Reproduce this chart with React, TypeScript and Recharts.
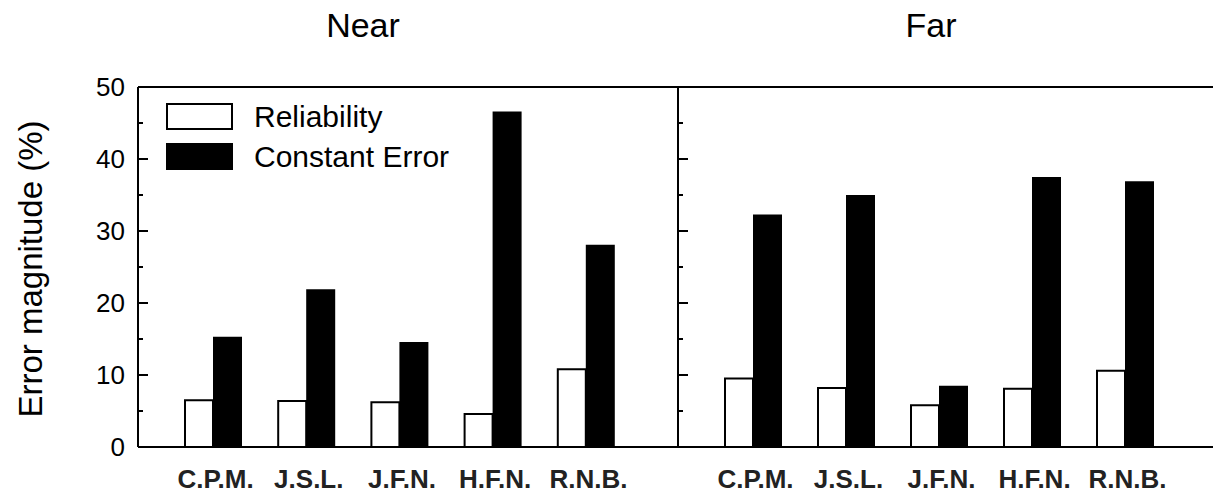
import React from 'react'
import { BarChart, Bar, XAxis, YAxis, ReferenceLine, Legend } from 'recharts'

// values (percent)
const subjects = ['C.P.M.', 'J.S.L.', 'J.F.N.', 'H.F.N.', 'R.N.B.']
const nearReliability = [6.5, 6.4, 6.2, 4.6, 10.8]
const nearConstant = [15.3, 21.9, 14.6, 46.6, 28.1]
const farReliability = [9.5, 8.2, 5.8, 8.1, 10.6]
const farConstant = [32.3, 35.0, 8.5, 37.5, 36.9]
const yTicks = [0, 5, 10, 15, 20, 25, 30, 35, 40, 45, 50]
const seriesNames = ['Reliability', 'Constant Error']

const FONT = '"Liberation Sans", Arial, Helvetica, sans-serif'
const TICK_MARGIN = 13

const nearData = subjects.map((s, i) => ({
  subject: s,
  reliability: nearReliability[i],
  constant: nearConstant[i],
}))
const farData = subjects.map((s, i) => ({
  subject: s,
  reliability: farReliability[i],
  constant: farConstant[i],
}))

function YTick(props: any) {
  const { x, y, payload, showLabel } = props
  const v = payload.value
  const major = v % 10 === 0
  const axisX = x + TICK_MARGIN
  return (
    <g>
      <line x1={axisX} x2={axisX + (major ? 10 : 5)} y1={y} y2={y} stroke="#000" strokeWidth={2} />
      {showLabel && major && (
        <text x={x} y={y} textAnchor="end" dominantBaseline="central" fontFamily={FONT} fontSize={26} fill="#000">
          {v}
        </text>
      )}
    </g>
  )
}

function XTick(props: any) {
  const { x, y, payload } = props
  return (
    <text x={x + 2} y={y + 41} textAnchor="middle" fontFamily={FONT} fontSize={26} fontWeight="bold" fill="#222">
      {payload.value}
    </text>
  )
}

function LegendContent(props: any) {
  const items = [...(props.payload || [])].sort(
    (a: any, b: any) => seriesNames.indexOf(a.value) - seriesNames.indexOf(b.value)
  )
  return (
    <div style={{ fontFamily: FONT, fontSize: 30, color: '#000' }}>
      {items.map((p: any) => (
        <div key={p.value} style={{ display: 'flex', alignItems: 'center', height: 27, marginBottom: 13 }}>
          <div
            style={{
              width: 67,
              height: 27,
              boxSizing: 'border-box',
              border: '2px solid #000',
              background: p.payload?.fill ?? p.color,
            }}
          />
          <span style={{ marginLeft: 21, whiteSpace: 'nowrap' }}>{p.value}</span>
        </div>
      ))}
    </div>
  )
}

function Panel({ data, width, axisWidth, showLabels, legend }: any) {
  return (
    <BarChart
      width={width}
      height={497}
      data={data}
      margin={{ top: 87, right: 2, bottom: 0, left: 0 }}
      barGap={0}
    >
      <XAxis
        dataKey="subject"
        interval={0}
        height={50}
        tickSize={0}
        tickMargin={0}
        tickLine={false}
        axisLine={{ stroke: '#000', strokeWidth: 2 }}
        padding={{ left: 29, right: 45 }}
        tick={<XTick />}
      />
      <YAxis
        type="number"
        domain={[0, 50]}
        ticks={yTicks}
        interval={0}
        width={axisWidth}
        tickSize={0}
        tickMargin={TICK_MARGIN}
        tickLine={false}
        axisLine={{ stroke: '#000', strokeWidth: 2 }}
        tick={<YTick showLabel={showLabels} />}
      />
      <ReferenceLine y={50} stroke="#000" strokeWidth={2} />
      {legend && (
        <Legend
          layout="vertical"
          align="center"
          verticalAlign="middle"
          wrapperStyle={{ top: 103, left: 166, width: 320 }}
          content={<LegendContent />}
        />
      )}
      <Bar dataKey="reliability" name="Reliability" fill="#fff" stroke="#000" strokeWidth={2} barSize={28} isAnimationActive={false} />
      <Bar dataKey="constant" name="Constant Error" fill="#000" barSize={29} isAnimationActive={false} />
    </BarChart>
  )
}

export default function App() {
  return (
    <div style={{ position: 'absolute', left: 0, top: 0, width: 1213, height: 497, overflow: 'hidden', background: '#fff' }}>
      <div style={{ position: 'absolute', left: 0, top: 0 }}>
        <Panel data={nearData} width={680} axisWidth={138} showLabels legend />
      </div>
      <div style={{ position: 'absolute', left: 640, top: 0 }}>
        <Panel data={farData} width={579} axisWidth={38} showLabels={false} legend={false} />
      </div>
      <svg width={1213} height={497} style={{ position: 'absolute', left: 0, top: 0, pointerEvents: 'none' }}>
        <text x={363} y={37} textAnchor="middle" fontFamily={FONT} fontSize={34} fill="#000">Near</text>
        <text x={931} y={37} textAnchor="middle" fontFamily={FONT} fontSize={34} fill="#000">Far</text>
        <text
          x={30}
          y={269}
          textAnchor="middle"
          dominantBaseline="central"
          transform="rotate(-90 30 269)"
          fontFamily={FONT}
          fontSize={33}
          fill="#000"
        >
          Error magnitude (%)
        </text>
      </svg>
    </div>
  )
}
